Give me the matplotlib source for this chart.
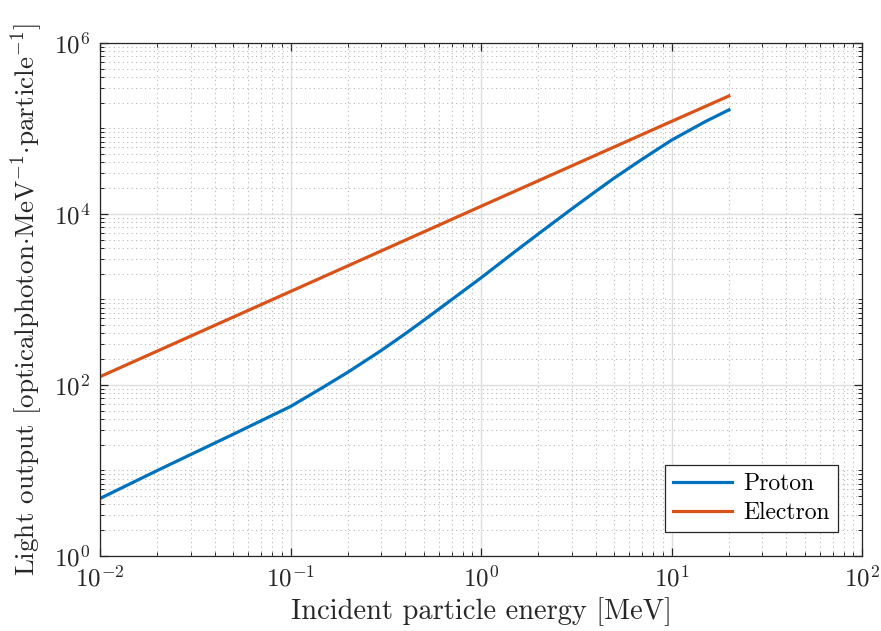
import matplotlib
matplotlib.use("Agg")
import matplotlib.pyplot as plt
import numpy as np

plt.rcParams['font.family'] = 'serif'
plt.rcParams['font.serif'] = ['cmr10']
plt.rcParams['mathtext.fontset'] = 'cm'
plt.rcParams['axes.formatter.use_mathtext'] = True

# light output curves
proton_energy = [0.01, 0.02, 0.05, 0.1, 0.15, 0.2, 0.3, 0.4, 0.5, 0.7, 1.0, 1.5, 2.0,
                 3.0, 4.0, 5.0, 7.0, 10.0, 15.0, 20.0]
proton_light = [4.7, 10, 26.5, 56, 95.5, 141, 254, 397, 570, 993, 1790, 3600, 5850,
                11500, 18400, 26300, 43600, 73000, 120000, 165000]

electron_energy = [0.01, 0.1, 1.0, 10.0, 20.0]
electron_light = [125, 1240, 12300, 121000, 240000]

x_ticks = [1e-2, 1e-1, 1e0, 1e1, 1e2]
y_ticks = [1e0, 1e2, 1e4, 1e6]

fig = plt.figure(figsize=(8.81, 6.31), dpi=100)
ax = fig.add_axes([0.1135, 0.1189, 0.865, 0.8130])

ax.plot(proton_energy, proton_light, color='#0072BD', lw=2.3, label='Proton',
        solid_joinstyle='round')
ax.plot(electron_energy, electron_light, color='#D95319', lw=2.3, label='Electron',
        solid_joinstyle='round')

ax.set_xscale('log')
ax.set_yscale('log')
ax.set_xlim(1e-2, 1e2)
ax.set_ylim(1e0, 1e6)
ax.set_xticks(x_ticks)
ax.set_yticks(y_ticks)

x_minor = [m * 10.0 ** k for k in range(-2, 2) for m in range(2, 10)]
y_minor = [m * 10.0 ** k for k in range(0, 6) for m in range(1, 10) if not (m == 1 and k % 2 == 0)]
ax.set_xticks(x_minor, minor=True)
ax.set_yticks(y_minor, minor=True)
ax.tick_params(which='minor', labelleft=False, labelbottom=False)

ax.grid(True, which='major', color='#dedede', lw=1.0, ls='-')
ax.grid(True, which='minor', color='#b8b8b8', lw=0.8, ls=(0, (1, 3)))
ax.set_axisbelow(True)

for s in ax.spines.values():
    s.set_color('#262626')
    s.set_linewidth(0.9)
ax.tick_params(which='both', direction='in', top=True, right=True, colors='#262626',
               labelcolor='#262626', labelsize=18, pad=7)
ax.tick_params(which='major', length=6, width=0.9)
ax.tick_params(which='minor', length=3, width=0.7)

ax.set_xlabel('Incident particle energy [MeV]', fontsize=20.5, color='#262626', labelpad=4)
ax.set_ylabel(r'Light output [opticalphoton${\cdot}$MeV$^{-1}{\cdot}$particle$^{-1}$]',
              fontsize=19.5, color='#262626', labelpad=6)

leg = ax.legend(loc='lower right', fontsize=17, fancybox=False, framealpha=1,
                edgecolor='#262626', borderaxespad=1.0, handlelength=2.5,
                borderpad=0.35, labelspacing=0.3, handletextpad=0.5)
leg.get_frame().set_linewidth(0.9)

fig.savefig('out.png', dpi=100)
